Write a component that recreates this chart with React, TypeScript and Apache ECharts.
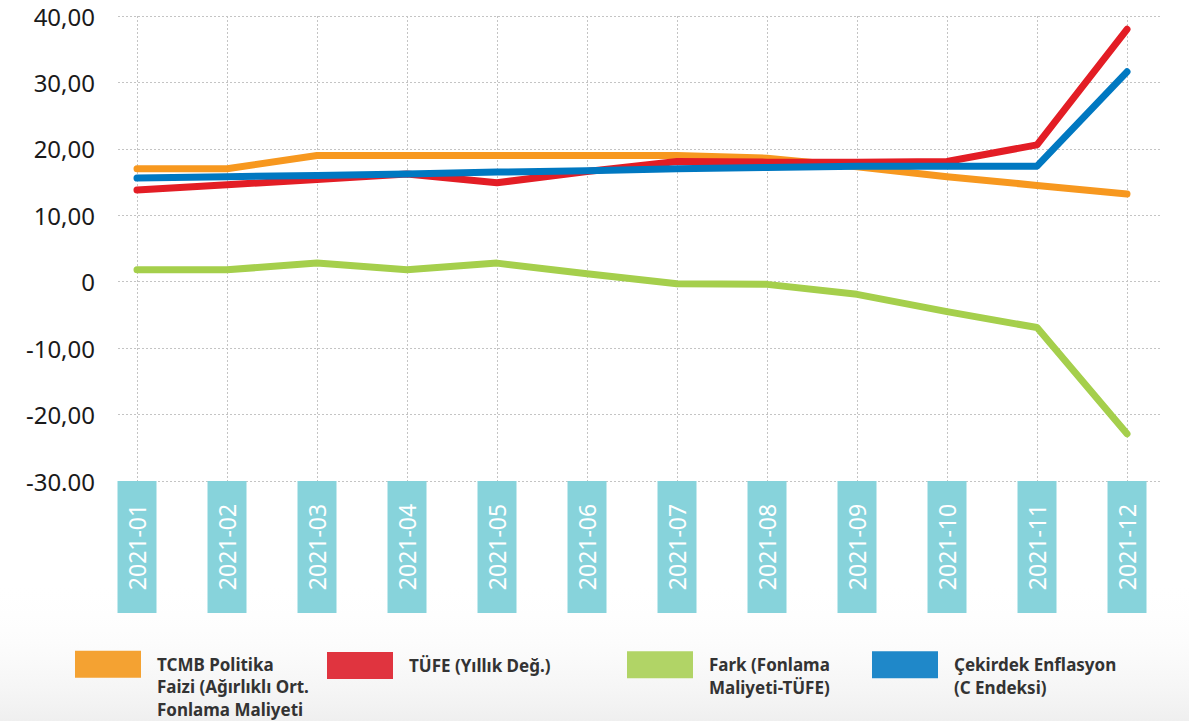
import React, { useEffect, useRef } from "react";
import * as echarts from "echarts";

const months = ["2021-01", "2021-02", "2021-03", "2021-04", "2021-05", "2021-06", "2021-07", "2021-08", "2021-09", "2021-10", "2021-11", "2021-12"];
const tcmb = [17.0, 17.0, 19.0, 19.0, 19.0, 19.0, 19.0, 18.6, 17.3, 15.8, 14.5, 13.2];
const tufe = [13.8, 14.6, 15.4, 16.2, 14.9, 16.6, 18.1, 18.0, 18.0, 18.1, 20.6, 38.0];
const fark = [1.8, 1.8, 2.8, 1.8, 2.8, 1.2, -0.3, -0.4, -1.9, -4.5, -6.9, -22.9];
const cekirdek = [15.6, 15.8, 16.0, 16.2, 16.5, 16.7, 17.0, 17.2, 17.4, 17.4, 17.4, 31.6];
const yTickLabels: Record<string, string> = {
  "40": "40,00", "30": "30,00", "20": "20,00", "10": "10,00", "0": "0",
  "-10": "-10,00", "-20": "-20,00", "-30": "-30.00",
};

const names = [
  "TCMB Politika\nFaizi (Ağırlıklı Ort.\nFonlama Maliyeti",
  "TÜFE (Yıllık Değ.)",
  "Fark (Fonlama\nMaliyeti-TÜFE)",
  "Çekirdek Enflasyon\n(C Endeksi)",
];
const lineColors = ["#F7981F", "#E31D25", "#A5CF4C", "#0078C1"];
const legendColors = ["#F4A232", "#E0343F", "#B1D466", "#1F88C9"];
const seriesData = [tcmb, tufe, fark, cekirdek];

const FONT = "'Noto Sans', sans-serif";

export default function App() {
  const ref = useRef<HTMLDivElement>(null);
  useEffect(() => {
    const chart = echarts.init(ref.current!, null, { renderer: "svg" });
    const legendLefts = [75, 327, 627, 872];
    const legendTops = [608, 652, 631, 631];
    const legends = names.map((n, i) => ({
      left: legendLefts[i],
      top: legendTops[i],
      padding: 0,
      orient: "horizontal",
      icon: "rect",
      itemWidth: 66,
      itemHeight: 27,
      selectedMode: false,
      data: [{ name: n, itemStyle: { color: legendColors[i] } }],
      // pad with leading blank lines so the first text line sits beside the swatch
      formatter: (name: string) => {
        const extra = name.split("\n").length - 1;
        return "\n".repeat(extra) + name;
      },
      textStyle: {
        fontFamily: FONT,
        fontSize: 17,
        fontWeight: "bold",
        color: "#333",
        lineHeight: 22.5,
        padding: [0, 0, 0, 11],
      },
    }));
    chart.setOption({
      animation: false,
      backgroundColor: "#ffffff",
      graphic: [
        {
          type: "rect",
          left: 0,
          top: 580,
          z: -10,
          silent: true,
          shape: { width: 1189, height: 141 },
          style: {
            fill: new echarts.graphic.LinearGradient(0, 0, 0, 1, [
              { offset: 0, color: "rgba(255,255,255,0)" },
              { offset: 1, color: "#efefef" },
            ]),
          },
        },
      ],
      legend: legends,
      grid: [
        { left: 92, right: 17, top: 16, bottom: 240 },
        { left: 118, right: 29, top: 16, bottom: 240 },
      ],
      xAxis: [
        {
          type: "category",
          gridIndex: 0,
          data: months,
          boundaryGap: true,
          axisLine: { show: false },
          axisTick: { show: false },
          splitLine: {
            show: true,
            alignWithLabel: true,
            lineStyle: { color: "#c4c4c4", type: [2, 2], width: 1 },
          },
          axisLabel: {
            interval: 0,
            rotate: 90,
            margin: 0,
            formatter: (v: string) => `{b|${v}}`,
            rich: {
              b: {
                width: 132,
                height: 39,
                lineHeight: 39,
                align: "center",
                backgroundColor: "#87D3DB",
                color: "#ffffff",
                fontSize: 23,
                fontFamily: FONT,
              },
            },
          },
        },
        { type: "value", gridIndex: 1, show: false, min: 0, max: 1 },
      ],
      yAxis: [
        { type: "value", gridIndex: 0, min: -30, max: 40, interval: 10, show: false },
        {
          type: "value",
          gridIndex: 1,
          min: -30,
          max: 40,
          interval: 10,
          axisLine: { show: false },
          axisTick: { show: false },
          splitLine: { show: true, lineStyle: { color: "#c4c4c4", type: [2, 2], width: 1 } },
          axisLabel: {
            margin: 23,
            fontSize: 24,
            fontFamily: FONT,
            color: "#1a1a1a",
            formatter: (v: number) => yTickLabels[String(v)] ?? String(v),
          },
        },
      ],
      series: names.map((n, i) => ({
        name: n,
        type: "line",
        xAxisIndex: 0,
        yAxisIndex: 0,
        data: seriesData[i],
        symbol: "none",
        color: lineColors[i],
        lineStyle: { width: 7, color: lineColors[i], cap: "round", join: "round" },
        itemStyle: { color: legendColors[i] },
      })),
    });
    return () => chart.dispose();
  }, []);
  return (
    <div
      ref={ref}
      style={{ position: "fixed", left: 0, top: 0, width: 1189, height: 721 }}
    />
  );
}
